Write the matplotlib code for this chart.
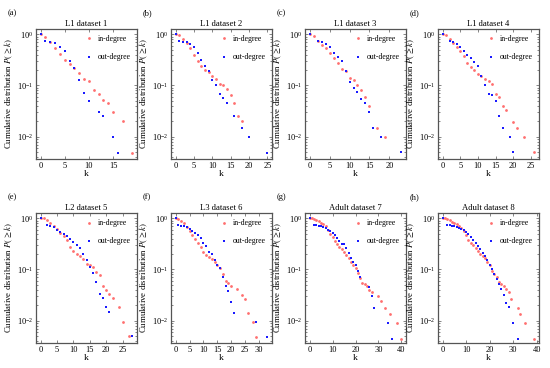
import matplotlib
matplotlib.use("Agg")
import matplotlib.pyplot as plt
from matplotlib.ticker import LogLocator, MultipleLocator, NullFormatter

plt.rcParams["font.family"] = ["Liberation Serif", "DejaVu Serif"]
plt.rcParams["mathtext.fontset"] = "stix"

titles = ["L1 dataset 1", "L1 dataset 2", "L1 dataset 3", "L1 dataset 4",
          "L2 dataset 5", "L3 dataset 6", "Adult dataset 7", "Adult dataset 8"]
panel_tags = ["(a)", "(b)", "(c)", "(d)", "(e)", "(f)", "(g)", "(h)"]
x_steps = [5, 5, 5, 5, 5, 5, 10, 10]

# (a) L1 dataset 1
a_in_k = [0, 1, 2, 3, 4, 5, 6, 7, 8, 9, 10, 11, 12, 13, 14, 15, 17, 19]
a_in_p = [1.0, 0.875, 0.70, 0.53, 0.415, 0.31, 0.265, 0.22, 0.172, 0.136, 0.12,
          0.083, 0.067, 0.052, 0.045, 0.030, 0.020, 0.0049]
a_out_k = [0, 1, 2, 3, 4, 5, 6, 7, 8, 9, 10, 12, 13, 15, 16]
a_out_p = [1.0, 0.73, 0.69, 0.67, 0.57, 0.47, 0.30, 0.215, 0.13, 0.071, 0.051,
           0.030, 0.025, 0.010, 0.0049]

# (b) L1 dataset 2
b_in_k = [0, 1, 2, 3, 4, 5, 6, 7, 8, 9, 10, 11, 12, 13, 14, 15, 16, 17, 18]
b_in_p = [1.0, 0.96, 0.81, 0.68, 0.53, 0.40, 0.30, 0.24, 0.20, 0.18, 0.15, 0.134,
          0.107, 0.10, 0.085, 0.065, 0.046, 0.025, 0.020]
b_out_k = [0, 1, 2, 3, 4, 5, 6, 7, 8, 9, 10, 11, 12, 13, 14, 16, 18, 20, 25]
b_out_p = [1.0, 0.73, 0.71, 0.69, 0.63, 0.55, 0.43, 0.32, 0.24, 0.19, 0.13, 0.10,
           0.069, 0.056, 0.045, 0.025, 0.015, 0.010, 0.0049]

# (c) L1 dataset 3
c_in_k = [0, 1, 2, 3, 4, 5, 6, 7, 8, 9, 10, 11, 12, 13, 14, 15, 17, 19]
c_in_p = [1.0, 0.94, 0.72, 0.62, 0.53, 0.43, 0.34, 0.27, 0.21, 0.19, 0.14, 0.128,
          0.10, 0.083, 0.059, 0.040, 0.015, 0.010]
c_out_k = [0, 2, 3, 4, 5, 6, 7, 8, 9, 10, 11, 12, 13, 14, 15, 16, 18, 23]
c_out_p = [1.0, 0.73, 0.69, 0.65, 0.55, 0.42, 0.36, 0.30, 0.195, 0.115, 0.09,
           0.075, 0.055, 0.045, 0.030, 0.015, 0.010, 0.005]

# (d) L1 dataset 4
d_in_k = [0, 1, 2, 3, 4, 5, 6, 7, 8, 9, 10, 11, 12, 13, 14, 15, 16, 17, 18, 20,
          21, 23, 26]
d_in_p = [1.0, 0.98, 0.81, 0.68, 0.57, 0.46, 0.37, 0.28, 0.225, 0.197, 0.17, 0.15,
          0.136, 0.125, 0.108, 0.068, 0.059, 0.040, 0.034, 0.0195, 0.015, 0.010,
          0.005]
d_out_k = [0, 2, 3, 4, 5, 6, 7, 8, 9, 10, 11, 12, 13, 14, 15, 16, 17, 19, 20]
d_out_p = [1.0, 0.72, 0.69, 0.63, 0.56, 0.47, 0.39, 0.34, 0.29, 0.24, 0.155, 0.10,
           0.069, 0.064, 0.050, 0.025, 0.015, 0.010, 0.005]

# (e) L2 dataset 5
e_in_k = [0, 1, 2, 3, 4, 5, 6, 7, 8, 9, 10, 11, 12, 13, 14, 15, 16, 17, 18, 19,
          20, 21, 22, 24, 25, 27]
e_in_p = [1.0, 1.0, 0.93, 0.82, 0.70, 0.62, 0.52, 0.45, 0.37, 0.28, 0.225, 0.20,
          0.18, 0.16, 0.13, 0.12, 0.11, 0.09, 0.078, 0.048, 0.040, 0.033, 0.028,
          0.019, 0.0095, 0.005]
e_out_k = [0, 2, 3, 4, 5, 6, 7, 8, 9, 10, 11, 12, 13, 14, 15, 16, 17, 18, 19, 20,
           21, 28]
e_out_p = [1.0, 0.72, 0.71, 0.67, 0.60, 0.53, 0.49, 0.45, 0.40, 0.35, 0.30, 0.26,
           0.20, 0.15, 0.11, 0.085, 0.057, 0.033, 0.028, 0.019, 0.015, 0.005]

# (f) L3 dataset 6
f_in_k = [0, 1, 2, 3, 4, 5, 6, 7, 8, 9, 10, 11, 12, 13, 14, 15, 16, 17, 18, 19,
          20, 22, 24, 25, 26, 28, 29]
f_in_p = [1.0, 0.96, 0.90, 0.80, 0.67, 0.57, 0.47, 0.40, 0.33, 0.28, 0.22, 0.19,
          0.175, 0.16, 0.14, 0.125, 0.105, 0.08, 0.06, 0.055, 0.047, 0.042, 0.032,
          0.027, 0.014, 0.0095, 0.0048]
f_out_k = [0, 1, 2, 3, 4, 5, 6, 7, 8, 9, 10, 11, 12, 13, 14, 15, 16, 17, 18, 19,
           20, 21, 29, 33]
f_out_p = [1.0, 0.72, 0.71, 0.70, 0.66, 0.62, 0.56, 0.52, 0.46, 0.41, 0.33, 0.29,
           0.22, 0.20, 0.15, 0.12, 0.105, 0.07, 0.048, 0.038, 0.023, 0.014, 0.0095,
           0.0048]

# (g) Adult dataset 7
g_in_k = [0, 1, 2, 3, 4, 5, 6, 7, 8, 9, 10, 11, 12, 13, 14, 15, 16, 17, 18, 19,
          20, 21, 22, 23, 24, 25, 26, 27, 30, 31, 33, 35, 38, 40]
g_in_p = [1.0, 0.99, 0.97, 0.92, 0.88, 0.82, 0.77, 0.70, 0.58, 0.50, 0.42, 0.36,
          0.31, 0.28, 0.25, 0.22, 0.19, 0.165, 0.14, 0.12, 0.105, 0.085, 0.068,
          0.055, 0.052, 0.048, 0.040, 0.036, 0.030, 0.024, 0.018, 0.0135, 0.009,
          0.0045]
g_out_k = [0, 2, 3, 4, 5, 6, 7, 8, 9, 10, 11, 12, 13, 14, 15, 16, 17, 18, 19, 20,
           21, 22, 26, 27, 28, 34, 36]
g_out_p = [1.0, 0.73, 0.72, 0.70, 0.69, 0.67, 0.63, 0.60, 0.56, 0.52, 0.47, 0.41,
           0.36, 0.31, 0.31, 0.26, 0.21, 0.17, 0.14, 0.12, 0.092, 0.07, 0.045,
           0.031, 0.018, 0.009, 0.0045]

# (h) Adult dataset 8
h_in_k = [0, 1, 2, 3, 4, 5, 6, 7, 8, 9, 10, 11, 12, 13, 14, 15, 16, 17, 18, 19,
          20, 21, 22, 23, 24, 25, 26, 27, 28, 29, 32, 33, 35, 39]
h_in_p = [1.0, 0.99, 0.96, 0.92, 0.86, 0.81, 0.76, 0.70, 0.63, 0.55, 0.46, 0.38,
          0.33, 0.30, 0.26, 0.23, 0.20, 0.18, 0.165, 0.14, 0.12, 0.095, 0.08, 0.07,
          0.058, 0.052, 0.047, 0.042, 0.036, 0.027, 0.018, 0.0135, 0.0092, 0.0045]
h_out_k = [0, 2, 3, 4, 5, 6, 7, 8, 9, 10, 11, 12, 13, 14, 15, 16, 17, 18, 19, 20,
           21, 22, 23, 24, 25, 26, 27, 28, 30, 32]
h_out_p = [1.0, 0.73, 0.72, 0.70, 0.69, 0.67, 0.64, 0.61, 0.58, 0.53, 0.49, 0.43,
           0.38, 0.33, 0.29, 0.25, 0.21, 0.18, 0.15, 0.12, 0.10, 0.08, 0.064, 0.052,
           0.042, 0.032, 0.022, 0.019, 0.009, 0.0045]

in_series = [(a_in_k, a_in_p), (b_in_k, b_in_p), (c_in_k, c_in_p), (d_in_k, d_in_p),
             (e_in_k, e_in_p), (f_in_k, f_in_p), (g_in_k, g_in_p), (h_in_k, h_in_p)]
out_series = [(a_out_k, a_out_p), (b_out_k, b_out_p), (c_out_k, c_out_p),
              (d_out_k, d_out_p), (e_out_k, e_out_p), (f_out_k, f_out_p),
              (g_out_k, g_out_p), (h_out_k, h_out_p)]

RED = "#ff6f6f"
BLUE = "#1a1aff"
FRAME = "#555555"

fig = plt.figure(figsize=(5.5, 3.68), dpi=100)
lefts = [36, 171, 305, 438]
width_px = 101
tops = [29, 213]
height_px = 130

for idx in range(8):
    row, col = divmod(idx, 4)
    x0 = lefts[col] / 550
    y0 = 1 - (tops[row] + height_px) / 368
    ax = fig.add_axes([x0, y0, width_px / 550, height_px / 368])

    ks, ps = in_series[idx]
    ax.plot(ks, ps, ls="none", marker="o", ms=2.0, mew=0, color=RED, label="in-degree")
    ks, ps = out_series[idx]
    ax.plot(ks, ps, ls="none", marker="s", ms=1.7, mew=0, color=BLUE, label="out-degree")

    ax.set_yscale("log")
    ax.set_ylim(0.0037, 1.26)
    ax.margins(x=0.05)
    ax.xaxis.set_major_locator(MultipleLocator(x_steps[idx]))
    ax.yaxis.set_major_locator(LogLocator(base=10, numticks=5))
    ax.yaxis.set_minor_locator(LogLocator(base=10, subs=range(2, 10), numticks=10))
    ax.yaxis.set_minor_formatter(NullFormatter())

    for sp in ax.spines.values():
        sp.set_color(FRAME)
        sp.set_linewidth(0.9)
    ax.tick_params(which="both", direction="in", color=FRAME, width=0.5,
                   labelsize=6, pad=2, top=True, right=True)
    ax.tick_params(which="major", length=2.5)
    ax.tick_params(which="minor", length=1.3)

    ax.set_title(titles[idx], fontsize=6.2, pad=2.5)
    ax.set_xlabel("k", fontsize=6.8, labelpad=0.5)
    ax.set_ylabel(r"Cumulative distribution $P(\geq k)$", fontsize=6.3)
    ax.yaxis.set_label_coords(-0.21, 0.5)
    ax.legend(loc="upper right", frameon=False, fontsize=5.6, handlelength=0.6,
              handletextpad=0.8, labelspacing=1.3, borderaxespad=0.4,
              markerscale=1.0)
    fig.text(x0 - 28 / 550, 1 - (tops[row] - 16) / 368, panel_tags[idx],
             fontsize=6, ha="left", va="center")

fig.savefig("out.png", dpi=100)
